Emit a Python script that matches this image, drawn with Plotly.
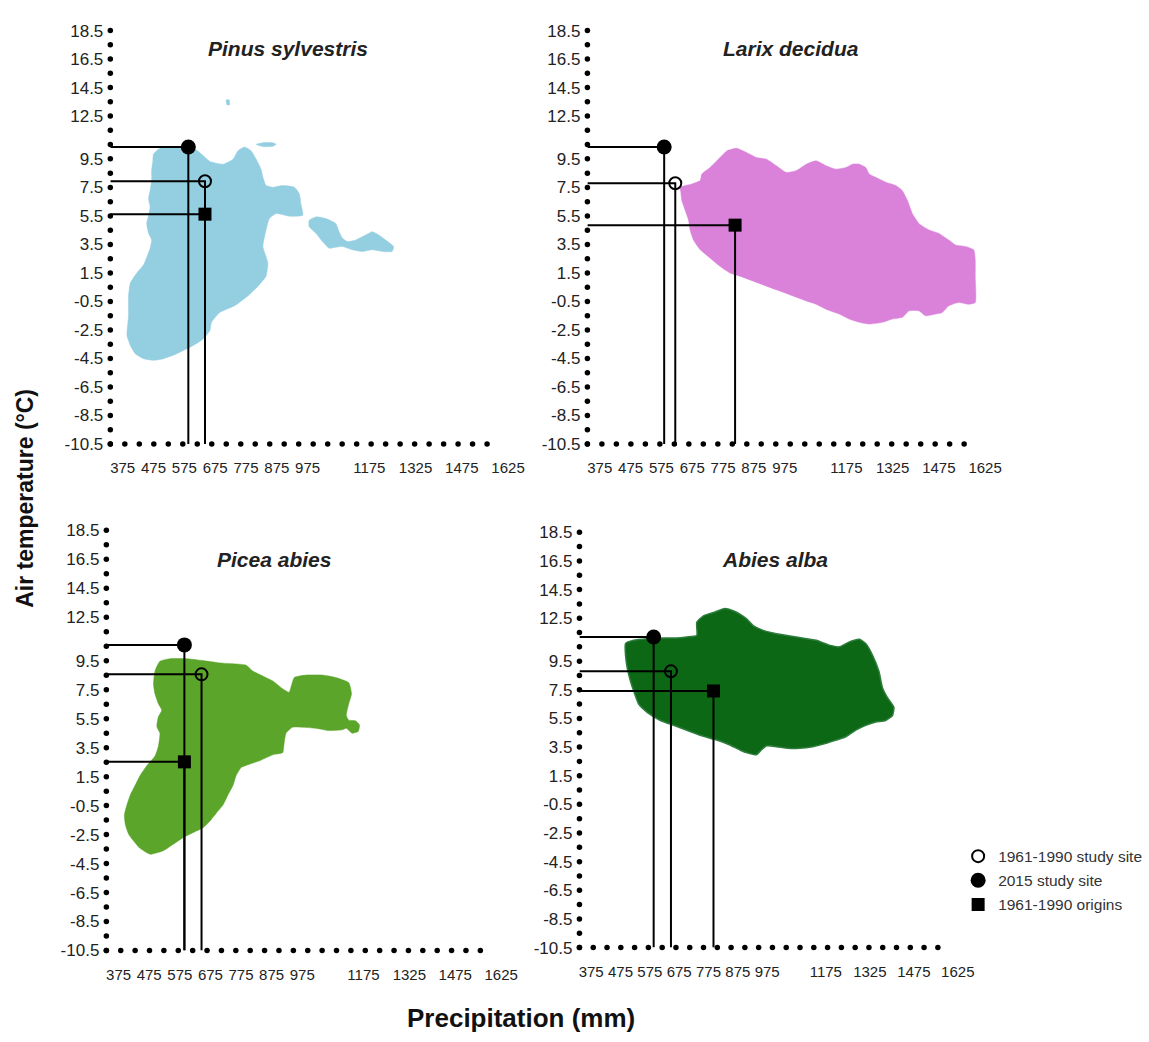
import plotly.graph_objects as go

# ---------------- data ----------------
precip_ticks = [375, 475, 575, 675, 775, 875, 975, 1175, 1325, 1475, 1625]
temp_ticks = [18.5, 16.5, 14.5, 12.5, 9.5, 7.5, 5.5, 3.5, 1.5, -0.5, -2.5, -4.5, -6.5, -8.5, -10.5]

species = ["Pinus sylvestris", "Larix decidua", "Picea abies", "Abies alba"]
niche_colors = ["#94CEE1", "#DA82DA", "#5BA52B", "#0D6816"]

site_1961_precip = [642, 620, 646, 647]
site_1961_temp = [7.93, 7.79, 8.56, 8.79]
site_2015_precip = [588, 584, 590, 588]
site_2015_temp = [10.33, 10.33, 10.59, 11.19]
origins_precip = [642, 814, 590, 792]
origins_temp = [5.62, 4.85, 2.52, 7.42]

# climatic niche outlines (precipitation mm, temperature degC)
pinus_main = [(475, 9.83), (496, 10.24), (550, 10.33), (615, 10.10), (658, 9.32), (701, 9.13), (733, 9.48),
              (749, 10.06), (770, 10.33), (792, 10.06), (808, 9.48), (824, 8.78), (830, 8.21), (840, 7.63),
              (862, 7.51), (894, 7.63), (932, 7.51), (948, 7.05), (953, 6.36), (959, 5.55), (916, 5.48),
              (873, 5.66), (851, 5.31), (840, 4.51), (830, 3.35), (846, 2.19), (840, 1.27), (814, 0.57),
              (781, -0.12), (738, -0.81), (690, -1.28), (663, -1.97), (658, -2.55), (636, -3.13),
              (604, -3.59), (572, -3.94), (539, -4.28), (507, -4.52), (475, -4.63), (443, -4.52),
              (416, -4.17), (400, -3.59), (389, -2.90), (394, -1.51), (394, -0.12), (400, 0.80),
              (421, 1.50), (443, 2.08), (464, 3.23), (469, 3.81), (459, 4.28), (453, 4.97), (459, 5.55),
              (464, 6.12), (459, 6.70), (464, 7.28), (469, 7.98), (469, 8.67), (473, 9.36)]
pinus_east = [(980, 5.20), (1002, 5.43), (1034, 5.31), (1066, 4.97), (1077, 4.39), (1088, 3.93), (1104, 3.70),
              (1131, 3.81), (1163, 4.16), (1185, 4.39), (1206, 4.16), (1228, 3.81), (1254, 3.35),
              (1249, 3.00), (1217, 3.00), (1185, 3.12), (1152, 3.00), (1120, 3.12), (1088, 3.35),
              (1066, 3.30), (1045, 3.23), (1023, 3.70), (1002, 4.28), (980, 4.74)]
pinus_islet = [(808, 10.52), (830, 10.63), (862, 10.63), (873, 10.52), (862, 10.38), (830, 10.36)]
pinus_speck = [(711, 13.64), (720, 13.64), (722, 13.30), (713, 13.30)]

larix_main = [(636, 7.51), (674, 7.74), (701, 7.98), (706, 8.44), (733, 8.90), (765, 9.59), (787, 10.06),
              (819, 10.24), (851, 9.94), (883, 9.59), (916, 9.48), (948, 9.02), (980, 8.55), (1012, 8.67),
              (1045, 9.13), (1077, 9.36), (1109, 9.02), (1141, 8.78), (1174, 8.90), (1195, 9.13),
              (1217, 9.13), (1238, 8.90), (1249, 8.44), (1270, 8.21), (1303, 7.86), (1335, 7.63),
              (1356, 7.28), (1373, 6.59), (1389, 5.66), (1410, 4.97), (1443, 4.51), (1475, 4.27),
              (1507, 3.81), (1529, 3.46), (1561, 3.35), (1588, 3.12), (1593, 2.42), (1593, 1.27),
              (1593, -0.58), (1572, -0.70), (1539, -0.58), (1507, -0.81), (1486, -1.28), (1464, -1.39),
              (1432, -1.51), (1410, -1.16), (1378, -1.16), (1357, -1.62), (1324, -1.74), (1292, -1.97),
              (1249, -2.09), (1217, -1.97), (1184, -1.74), (1152, -1.39), (1109, -1.05), (1077, -0.70),
              (1045, -0.47), (1002, -0.12), (959, 0.23), (916, 0.57), (873, 0.92), (830, 1.27),
              (797, 1.50), (765, 1.96), (733, 2.54), (701, 3.12), (679, 3.81), (668, 4.51), (663, 5.20),
              (652, 5.89), (641, 6.59), (638, 7.17)]

picea_main = [(510, 9.46), (543, 9.64), (597, 9.64), (651, 9.51), (705, 9.35), (759, 9.28), (792, 9.19),
              (813, 8.79), (846, 8.45), (878, 8.11), (905, 7.66), (932, 7.32), (941, 7.88), (949, 8.34),
              (987, 8.51), (1041, 8.51), (1084, 8.34), (1127, 7.98), (1136, 7.21), (1127, 6.53),
              (1119, 5.74), (1127, 5.40), (1149, 5.36), (1162, 5.07), (1158, 4.62), (1138, 4.50),
              (1119, 4.84), (1106, 4.73), (1062, 4.68), (1019, 4.84), (976, 4.91), (943, 4.91),
              (922, 4.50), (916, 3.83), (911, 3.15), (884, 3.04), (857, 2.81), (835, 2.59), (803, 2.36),
              (776, 2.14), (759, 1.57), (749, 0.90), (732, 0.22), (716, -0.46), (694, -1.02),
              (673, -1.58), (651, -2.03), (629, -2.26), (586, -2.71), (554, -3.16), (521, -3.61),
              (478, -3.85), (445, -3.45), (424, -2.94), (408, -2.48), (397, -1.81), (394, -1.13),
              (402, -0.46), (413, 0.22), (429, 0.90), (445, 1.57), (467, 2.25), (494, 2.92), (505, 3.60),
              (510, 4.50), (500, 4.95), (505, 5.63), (516, 6.08), (505, 6.53), (494, 7.21), (489, 7.88),
              (494, 8.79)]

abies_main = [(492, 10.73), (520, 10.96), (566, 11.07), (622, 11.12), (667, 11.12), (701, 11.19),
              (735, 11.30), (735, 12.22), (758, 12.67), (792, 12.90), (831, 13.18), (859, 13.02),
              (882, 12.79), (905, 12.45), (927, 11.99), (961, 11.65), (1006, 11.42), (1074, 11.19),
              (1142, 10.96), (1187, 10.62), (1221, 10.50), (1255, 10.85), (1289, 11.03), (1311, 10.73),
              (1334, 9.93), (1356, 8.79), (1368, 7.65), (1385, 6.96), (1407, 6.28), (1402, 5.70),
              (1379, 5.36), (1345, 5.25), (1311, 5.02), (1277, 4.68), (1243, 4.22), (1210, 3.99),
              (1176, 3.76), (1130, 3.53), (1085, 3.42), (1046, 3.42), (1006, 3.53), (972, 3.58),
              (955, 3.30), (938, 2.96), (910, 3.08), (882, 3.30), (848, 3.65), (803, 3.99), (746, 4.33),
              (701, 4.68), (656, 5.02), (611, 5.36), (566, 5.93), (537, 6.50), (520, 7.42), (509, 8.10),
              (498, 9.02), (492, 9.93)]

niche_shapes = [[pinus_main, pinus_east, pinus_islet, pinus_speck], [larix_main], [picea_main], [abies_main]]

x_range = [335, 1660]
y_range = [-10.5, 18.5]
x_dot_step = 47
x_dot_end = 1560
y_dot_step = 1

# ---------------- layout geometry ----------------
W, H = 1149, 1042
# panel pixel boxes: (left, right, top, bottom)
boxes = [(110, 521, 22, 443), (590, 1001, 22, 443), (106, 514, 531, 959), (582, 973, 533, 956)]
title_pos = [(289, 40), (795, 40), (275, 561), (779, 561)]

fig = go.Figure()
xtick_font = dict(family="Liberation Sans Narrow, Arial Narrow, Liberation Sans, Arial", size=15, color="#222222")
ytick_font = dict(family="Liberation Sans, Arial", size=17, color="#222222")

legend_names = ["1961-1990 study site", "2015 study site", "1961-1990 origins"]

for i in range(4):
    xa = "x" if i == 0 else f"x{i+1}"
    ya = "y" if i == 0 else f"y{i+1}"
    # niche polygons
    for poly in niche_shapes[i]:
        xs = [p[0] for p in poly] + [poly[0][0]]
        ys = [p[1] for p in poly] + [poly[0][1]]
        fig.add_trace(go.Scatter(
            x=xs, y=ys, mode="lines", fill="toself", fillcolor=niche_colors[i],
            line=dict(color="#2E7D3C" if i == 3 else niche_colors[i], width=1.5 if i == 3 else 0.5,
                      shape="spline", smoothing=0.5),
            xaxis=xa, yaxis=ya, showlegend=False, hoverinfo="skip"))
    # drop lines
    for px, py in [(site_2015_precip[i], site_2015_temp[i]),
                   (site_1961_precip[i], site_1961_temp[i]),
                   (origins_precip[i], origins_temp[i])]:
        fig.add_trace(go.Scatter(
            x=[x_range[0], px, px], y=[py, py, y_range[0]], mode="lines",
            line=dict(color="black", width=2), xaxis=xa, yaxis=ya,
            showlegend=False, hoverinfo="skip", cliponaxis=False))
    # axis dots
    n_x = int((x_dot_end - x_range[0]) / x_dot_step) + 1
    xd = [x_range[0] + k * x_dot_step for k in range(n_x)]
    n_y = int((y_range[1] - y_range[0]) / y_dot_step) + 1
    yd = [y_range[0] + k * y_dot_step for k in range(n_y)]
    fig.add_trace(go.Scatter(
        x=xd + [x_range[0]] * n_y, y=[y_range[0]] * n_x + yd, mode="markers",
        marker=dict(color="black", size=5.5), xaxis=xa, yaxis=ya,
        showlegend=False, hoverinfo="skip", cliponaxis=False))
    # markers
    show = (i == 3)
    fig.add_trace(go.Scatter(
        x=[site_1961_precip[i]], y=[site_1961_temp[i]], mode="markers", name=legend_names[0],
        legendgroup="a", legendrank=1, showlegend=show,
        marker=dict(symbol="circle-open", size=12, color="black", line=dict(width=2)),
        xaxis=xa, yaxis=ya, cliponaxis=False))
    fig.add_trace(go.Scatter(
        x=[site_2015_precip[i]], y=[site_2015_temp[i]], mode="markers", name=legend_names[1],
        legendgroup="b", legendrank=2, showlegend=show,
        marker=dict(symbol="circle", size=15, color="black"),
        xaxis=xa, yaxis=ya, cliponaxis=False))
    fig.add_trace(go.Scatter(
        x=[origins_precip[i]], y=[origins_temp[i]], mode="markers", name=legend_names[2],
        legendgroup="c", legendrank=3, showlegend=show,
        marker=dict(symbol="square", size=13, color="black"),
        xaxis=xa, yaxis=ya, cliponaxis=False))

    l, r, t, b = boxes[i]
    xkey = "xaxis" if i == 0 else f"xaxis{i+1}"
    ykey = "yaxis" if i == 0 else f"yaxis{i+1}"
    fig.update_layout(**{
        xkey: dict(domain=[l / W, r / W], range=x_range, anchor=ya, showgrid=False, zeroline=False,
                   showline=False, ticks="", tickvals=precip_ticks, ticktext=[str(v) for v in precip_ticks],
                   tickfont=xtick_font, ticklabelstandoff=13, fixedrange=True),
        ykey: dict(domain=[1 - b / H, 1 - t / H], range=y_range, anchor=xa, showgrid=False, zeroline=False,
                   showline=False, ticks="", tickvals=temp_ticks, ticktext=[str(v) for v in temp_ticks],
                   tickfont=ytick_font, ticklabelstandoff=6, fixedrange=True),
    })
    tx, ty = title_pos[i]
    fig.add_annotation(text=f"<b><i>{species[i]}</i></b>", x=tx / W, y=1 - ty / H, xref="paper", yref="paper",
                       showarrow=False, xanchor="center", yanchor="middle",
                       font=dict(family="Liberation Sans, Arial", size=21, color="#222222"))

fig.add_annotation(text="<b>Air temperature (°C)</b>", x=24 / W, y=1 - 498 / H, xref="paper", yref="paper",
                   showarrow=False, textangle=-90, xanchor="center", yanchor="middle",
                   font=dict(family="Liberation Sans, Arial", size=23, color="#111111"))
fig.add_annotation(text="<b>Precipitation (mm)</b>", x=523 / W, y=1 - 1028 / H, xref="paper", yref="paper",
                   showarrow=False, xanchor="center", yanchor="middle",
                   font=dict(family="Liberation Sans, Arial", size=26, color="#111111"))

fig.update_layout(
    width=W, height=H, margin=dict(l=0, r=0, t=0, b=0),
    paper_bgcolor="white", plot_bgcolor="white",
    showlegend=True,
    legend=dict(x=963 / W, y=1 - 846 / H, xanchor="left", yanchor="top",
                font=dict(family="Liberation Sans, Arial", size=15.5, color="#333333"),
                bgcolor="rgba(0,0,0,0)", itemwidth=30, tracegroupgap=1),
)

fig.write_html("out.html")
